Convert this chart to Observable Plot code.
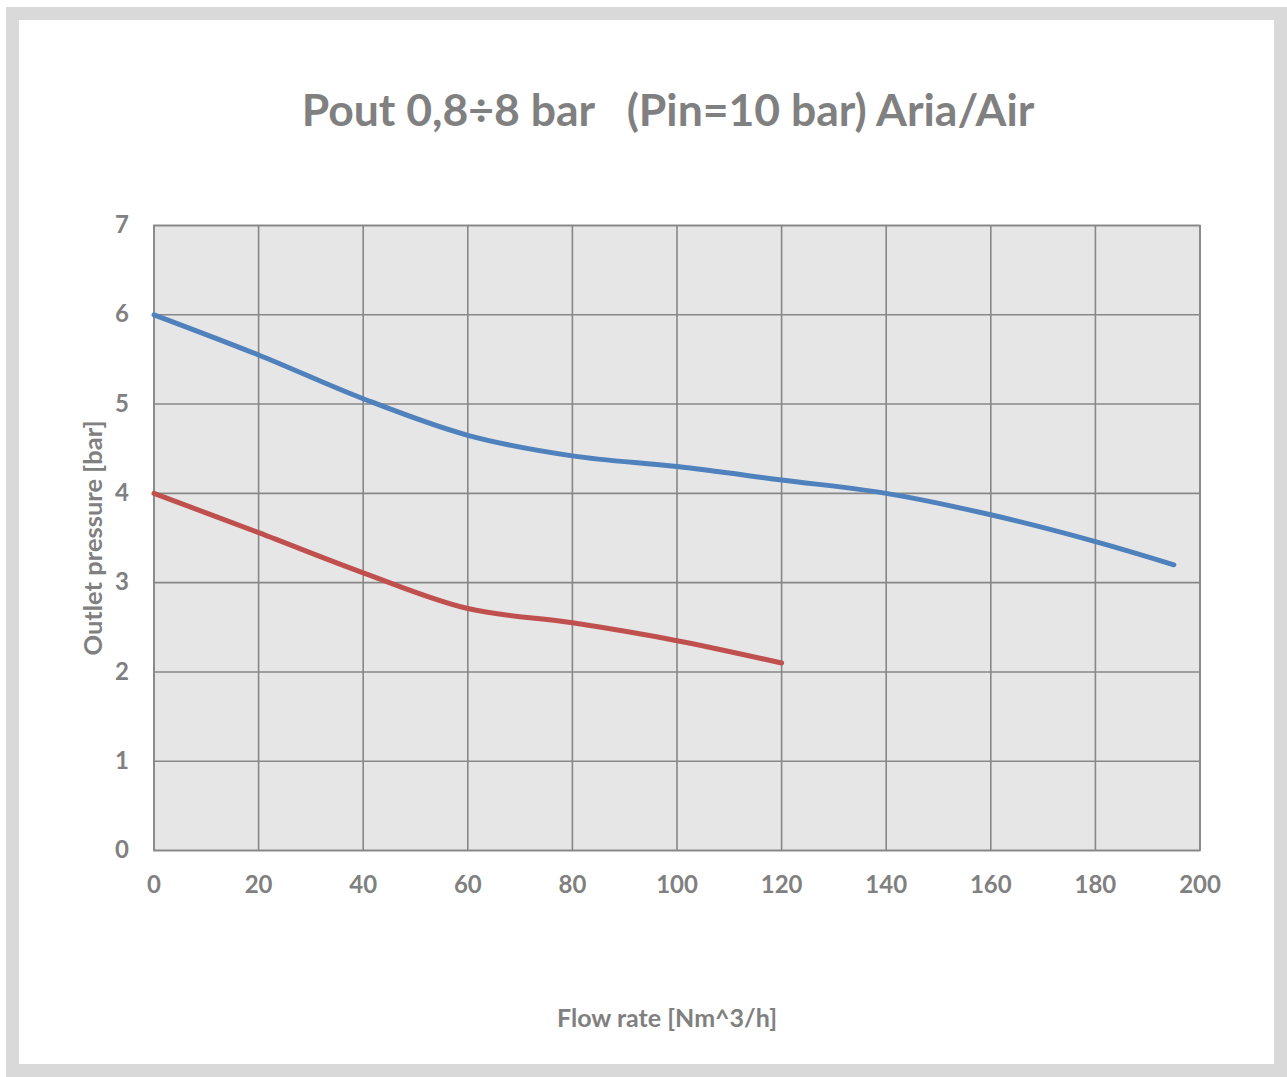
<!DOCTYPE html>
<html>
<head>
<meta charset="utf-8">
<script src="https://cdn.jsdelivr.net/npm/d3@7"></script>
<script src="https://cdn.jsdelivr.net/npm/@observablehq/plot@0.6"></script>
<style>
  html, body { margin: 0; padding: 0; background: #fff; }
  #wrap { position: relative; width: 1287px; height: 1077px; overflow: hidden; font-family: Lato, "Open Sans", sans-serif; }
  #border { position: absolute; left: 6px; top: 7px; width: 1281px; height: 1070px; box-sizing: border-box; border: 13px solid #d9d9d9; }
  #title { position: absolute; left: 0; width: 1336px; top: 82px; text-align: center; font-size: 44.5px; font-weight: bold; color: #808080; white-space: pre; }
  #chart { position: absolute; left: 0; top: 0; }
  #xlabel { position: absolute; left: 0; width: 1334px; top: 1002px; text-align: center; font-size: 25px; font-weight: bold; color: #808080; }
  #ylabel { position: absolute; left: 92px; top: 538px; transform: translate(-50%, -50%) rotate(-90deg); font-size: 25.5px; font-weight: bold; color: #808080; white-space: nowrap; }
</style>
</head>
<body>
<div id="wrap">
  <div id="border"></div>
  <div id="chart"></div>
  <div id="title"></div>
  <div id="xlabel"></div>
  <div id="ylabel"></div>
</div>
<script>
const titleText = "Pout 0,8÷8 bar   (Pin=10 bar) Aria/Air";
const xLabel = "Flow rate [Nm^3/h]";
const yLabel = "Outlet pressure [bar]";

const xTicks = [0, 20, 40, 60, 80, 100, 120, 140, 160, 180, 200];
const yTicks = [0, 1, 2, 3, 4, 5, 6, 7];

const blueFlow = [0, 20, 40, 60, 80, 100, 120, 140, 160, 180, 195];
const bluePressure = [6.0, 5.55, 5.06, 4.65, 4.42, 4.30, 4.15, 4.0, 3.76, 3.46, 3.2];

const redFlow = [0, 20, 40, 60, 80, 100, 120];
const redPressure = [4.0, 3.56, 3.11, 2.71, 2.55, 2.35, 2.1];

const blueData = blueFlow.map((x, i) => ({x, y: bluePressure[i]}));
const redData = redFlow.map((x, i) => ({x, y: redPressure[i]}));

document.getElementById("title").textContent = titleText;
document.getElementById("xlabel").textContent = xLabel;
document.getElementById("ylabel").textContent = yLabel;

const gridColor = "#878787";

const chart = Plot.plot({
  width: 1287,
  height: 1077,
  marginLeft: 153.5,
  marginRight: 87.5,
  marginTop: 225,
  marginBottom: 227,
  style: { fontFamily: "Lato, 'Open Sans', sans-serif", fontSize: "24px", fontWeight: "bold", color: "#808080", background: "transparent" },
  x: { domain: [0, 200], ticks: xTicks, label: null },
  y: { domain: [0, 7], ticks: yTicks, label: null },
  marks: [
    Plot.frame({ fill: "#e6e6e6", stroke: null }),
    Plot.gridX(xTicks, { stroke: gridColor, strokeOpacity: 1, strokeWidth: 1.6 }),
    Plot.gridY(yTicks, { stroke: gridColor, strokeOpacity: 1, strokeWidth: 1.6 }),
    Plot.frame({ stroke: gridColor, strokeWidth: 1.6 }),
    Plot.axisX(xTicks, { tickSize: 0, tickPadding: 25, fill: "#808080", fontWeight: "bold", tickFormat: d => String(d), label: null }),
    Plot.axisY(yTicks, { tickSize: 0, tickPadding: 25, fill: "#808080", fontWeight: "bold", tickFormat: d => String(d), label: null }),
    Plot.line(blueData, { x: "x", y: "y", stroke: "#4F81BD", strokeWidth: 5, curve: "catmull-rom" }),
    Plot.line(redData, { x: "x", y: "y", stroke: "#C0504D", strokeWidth: 5, curve: "catmull-rom" })
  ]
});
document.getElementById("chart").appendChild(chart);
</script>
</body>
</html>
